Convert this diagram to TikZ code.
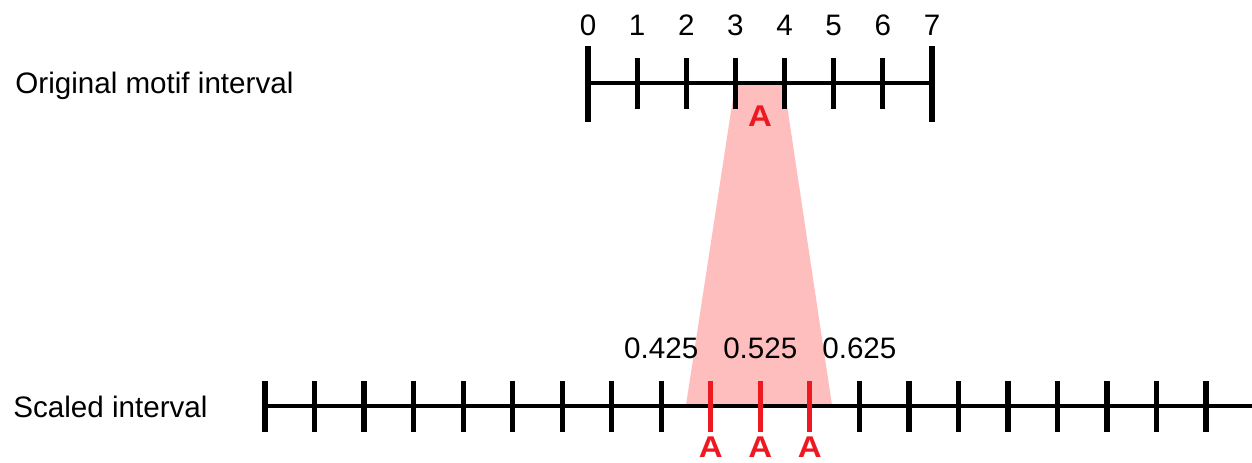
\documentclass[tikz,border=0pt]{standalone}
\usepackage{fontspec}
\setmainfont{Liberation Sans}
\usetikzlibrary{positioning}
\definecolor{motifred}{RGB}{238,24,32}
\definecolor{projpink}{RGB}{255,190,190}
\begin{document}
\begin{tikzpicture}[x=0.5pt, y=-0.5pt, font=\fontsize{14.8}{17}\selectfont]
  \tikzset{
    axisline/.style={line width=2.3pt, line cap=rect},
    tickmark/.style={line width=2.6pt},
    hittick/.style={tickmark, draw=motifred},
    numlabel/.style={anchor=base, inner sep=0pt},
    motifmark/.style={anchor=base, inner sep=0pt, text=motifred,
      font=\fontsize{15}{17}\selectfont\bfseries, xscale=1.1},
    rowlabel/.style={anchor=base west, inner sep=0pt},
  }
  \useasboundingbox (0,0) rectangle (1252,462);

  % projection of the motif onto the scaled interval
  \fill[projpink] (735,85) -- (784,85) -- (832,405) -- (686,405) -- cycle;

  % original motif interval
  \node[rowlabel] (origlabel) at (15,93) {Original motif interval};
  \draw[axisline] (588,83) -- (932,83);
  \draw[tickmark] (588,46) -- (588,122);
  \draw[tickmark] (932,46) -- (932,122);
  \foreach \i in {1,...,6}
    \draw[tickmark] (588+49.14*\i,58) -- (588+49.14*\i,109);
  \foreach \i in {0,...,7}
    \node[numlabel] (top\i) at (588+49.14*\i,35) {\i};
  \node[motifmark] (motifA) at (760,126) {A};

  % scaled interval
  \node[rowlabel] (scaledlabel) at (13,417) {Scaled interval};
  \draw[axisline] (265,406) -- (1252,406);
  \foreach \i in {0,...,8,12,13,...,19}
    \draw[tickmark] (265+49.53*\i,381) -- (265+49.53*\i,432);
  \foreach \i/\n in {9/1,10/2,11/3} {
    \draw[hittick] (265+49.53*\i,381) -- (265+49.53*\i,432);
    \node[motifmark] (hitA\n) at (265+49.53*\i,457) {A};
  }
  \node[numlabel] (pos425) at (265+49.53*8,358) {0.425};
  \node[numlabel] (pos525) at (265+49.53*10,358) {0.525};
  \node[numlabel] (pos625) at (265+49.53*12,358) {0.625};
\end{tikzpicture}
\end{document}
